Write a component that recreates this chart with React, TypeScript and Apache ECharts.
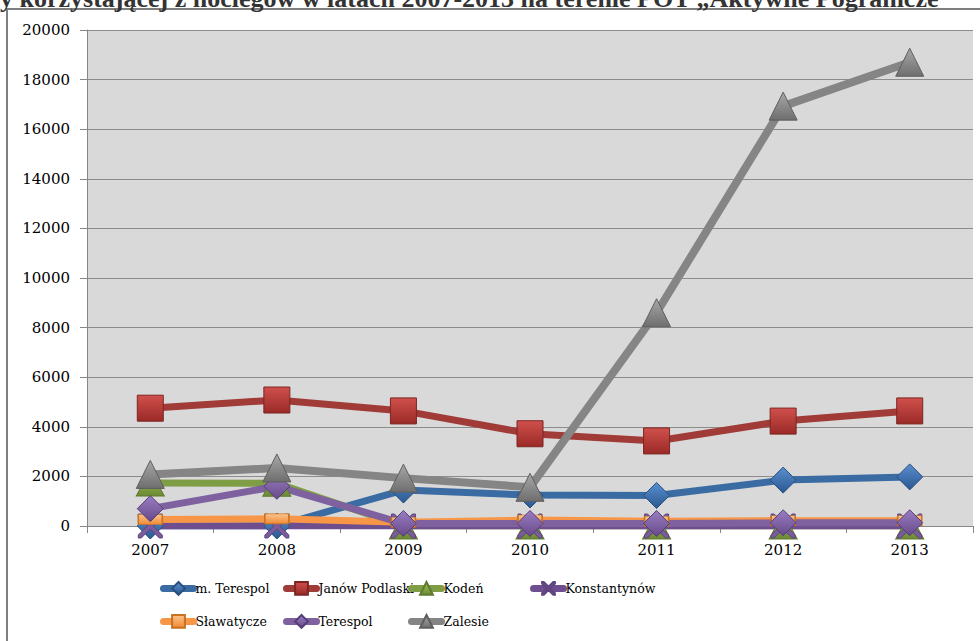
import React, { useEffect, useRef } from "react";
import * as echarts from "echarts";

const years = ["2007", "2008", "2009", "2010", "2011", "2012", "2013"];

const mTerespol = [0, 0, 1450, 1250, 1230, 1850, 1980];
const janowPodlaski = [4750, 5080, 4640, 3720, 3430, 4230, 4640];
const koden = [1730, 1720, 0, 0, 0, 0, 0];
const konstantynow = [0, 0, 0, 0, 0, 0, 0];
const slawatycze = [260, 290, 150, 240, 190, 210, 210];
const terespol = [700, 1600, 100, 100, 100, 130, 130];
const zalesie = [2080, 2340, 1930, 1560, 8600, 16930, 18700];

const titleText = "y korzystającej z noclegów w latach 2007-2013 na terenie POT „Aktywne Pogranicze”";

const X_PATH =
  "path://M0,0 L3,0 L12,9 L21,0 L24,0 L24,3 L15,12 L24,21 L24,24 L21,24 L12,15 L3,24 L0,24 L0,21 L9,12 L0,3 Z";

function grad(top: string, bottom: string) {
  return new echarts.graphic.LinearGradient(0, 0, 0, 1, [
    { offset: 0, color: top },
    { offset: 1, color: bottom },
  ]);
}

export default function App() {
  const ref = useRef<HTMLDivElement>(null);
  useEffect(() => {
    if (!ref.current) return;
    const chart = echarts.init(ref.current, null, { renderer: "svg" });
    const font = "DejaVu Serif";
    const mk = (
      name: string,
      data: number[],
      lineColor: string,
      fill: any,
      border: string,
      symbol: string,
      size: any,
      width = 7
    ) => ({
      name,
      type: "line",
      data,
      symbol,
      symbolSize: size,
      lineStyle: { color: lineColor, width, cap: "round", join: "round" },
      itemStyle: { color: fill, borderColor: border, borderWidth: 1 },
      emphasis: { disabled: true },
    });
    const legendPos: [string, number, number][] = [
      ["m. Terespol", 160, 589],
      ["Janów Podlaski", 283, 589],
      ["Kodeń", 408, 589],
      ["Konstantynów", 530, 589],
      ["Sławatycze", 160, 622],
      ["Terespol", 283, 622],
      ["Zalesie", 408, 622],
    ];
    chart.setOption({
      animation: false,
      backgroundColor: "#ffffff",
      textStyle: { fontFamily: font },
      grid: {
        left: 87,
        right: 7,
        top: 30,
        bottom: 115,
        show: true,
        backgroundColor: "#D9D9D9",
        borderWidth: 0,
      },
      legend: legendPos.map(([n, x, y]) => ({
        data: [n],
        left: x,
        top: y - 8,
        itemWidth: 30,
        itemHeight: 16,
        itemGap: 0,
        padding: 0,
        selectedMode: false,
        lineStyle: { width: 7, cap: "round" },
        textStyle: { fontFamily: font, fontSize: 12.5, color: "#000", padding: [0, 0, 0, -3] },
      })),
      graphic: [
        {
          type: "rect",
          shape: { x: 7, y: 9, width: 1000, height: 700 },
          style: { fill: "none", stroke: "#7f7f7f", lineWidth: 2 },
          silent: true,
          z: -1,
        },
        {
          type: "text",
          x: 0,
          y: 11,
          style: {
            text: titleText,
            fontFamily: "Liberation Serif",
            fontWeight: "bold",
            fontSize: 26,
            fill: "#333",
            verticalAlign: "bottom",
          },
          silent: true,
        },
      ],
      xAxis: {
        type: "category",
        data: years,
        boundaryGap: true,
        axisLine: { lineStyle: { color: "#868686", width: 1 } },
        axisTick: { show: true, length: 7, lineStyle: { color: "#868686" } },
        axisLabel: { color: "#000", fontSize: 15, margin: 16, fontFamily: font },
        splitLine: { show: false },
      },
      yAxis: {
        type: "value",
        min: 0,
        max: 20000,
        interval: 2000,
        axisLine: { show: true, lineStyle: { color: "#868686", width: 1 } },
        axisTick: { show: true, length: 7, lineStyle: { color: "#868686" } },
        axisLabel: {
          color: "#000",
          fontSize: 15,
          margin: 17,
          fontFamily: font,
          formatter: (v: number) => String(v),
        },
        splitLine: { lineStyle: { color: "#8c8c8c", width: 1 } },
      },
      series: [
        mk("m. Terespol", mTerespol, "#3A6BA3", grad("#5b8fd0", "#2a5890"), "#27507f", "diamond", 26),
        mk("Janów Podlaski", janowPodlaski, "#A03B37", grad("#d0504c", "#9a2a27"), "#7d2522", "rect", 26),
        mk("Kodeń", koden, "#7F9D45", grad("#a2c35e", "#6d8a34"), "#5e7a2c", "triangle", [28, 26]),
        mk("Konstantynów", konstantynow, "#6E4E8E", "#7A5C9C", "#5f4480", X_PATH, 24),
        mk("Sławatycze", slawatycze, "#F79646", grad("#fbc48e", "#f08a33"), "#c8711f", "rect", [24, 10]),
        mk("Terespol", terespol, "#7F61A0", grad("#9b7dc2", "#654a89"), "#553d77", "diamond", 26),
        mk("Zalesie", zalesie, "#858585", grad("#a8a8a8", "#6e6e6e"), "#5e5e5e", "triangle", [28, 28], 8),
      ],
    });
    return () => chart.dispose();
  }, []);
  return (
    <div
      ref={ref}
      style={{ position: "fixed", left: 0, top: 0, width: 980, height: 641 }}
    />
  );
}
